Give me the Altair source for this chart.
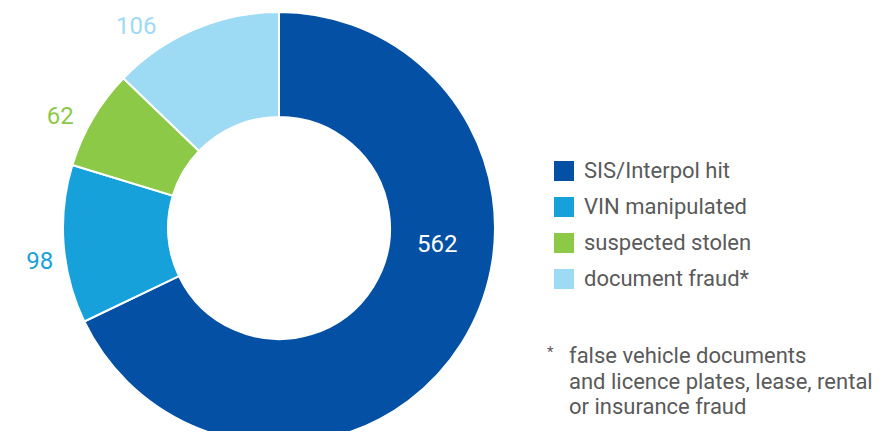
import altair as alt
import pandas as pd

categories = ["SIS/Interpol hit", "VIN manipulated", "suspected stolen", "document fraud*"]
values = [562, 98, 62, 106]
colors = ["#0450a4", "#16a1da", "#8cc947", "#9ddaf4"]
footnote_lines = ["false vehicle documents", "and licence plates, lease, rental", "or insurance fraud"]

FONT = "Roboto"
CX, CY = 271, 220
total = sum(values)

df = pd.DataFrame({"category": categories, "value": values, "order": list(range(len(values)))})
base = alt.Chart(df)
theta_scale = alt.Scale(domain=[0, total])

arc = base.mark_arc(outerRadius=216, innerRadius=111, stroke="white", strokeWidth=2).encode(
    x=alt.value(CX), y=alt.value(CY),
    theta=alt.Theta("value:Q", stack=True, scale=theta_scale),
    order=alt.Order("order:Q"),
    color=alt.Color("category:N", scale=alt.Scale(domain=categories, range=colors),
                    legend=alt.Legend(title=None, orient="none", legendX=545, legendY=152,
                                      symbolType="square", symbolSize=400, symbolStrokeWidth=0,
                                      labelFontSize=22, labelFont=FONT, labelColor="#5a5a5a",
                                      labelLimit=400, labelOffset=9, rowPadding=14, padding=0)),
)

# label style per category: (radius, dx, dy, text colour)
label_style = {
    "SIS/Interpol hit": (161, 22, -69, "white"),
    "VIN manipulated": (242, 2, 16, colors[1]),
    "suspected stolen": (242, -10, 12, colors[2]),
    "document fraud*": (242, -48, 22, colors[3]),
}

layers = [arc]
for cat in categories:
    r, dx, dy, col = label_style[cat]
    t = base.transform_window(
        cum="sum(value)", sort=[alt.SortField("order")]
    ).transform_calculate(
        mid="datum.cum - datum.value / 2"
    ).transform_filter(
        alt.datum.category == cat
    ).mark_text(radius=r, dx=dx, dy=dy, fontSize=24, font=FONT, color=col,
                align="center", baseline="middle").encode(
        x=alt.value(CX), y=alt.value(CY),
        theta=alt.Theta("mid:Q", stack=None, scale=theta_scale),
        text=alt.Text("value:Q"),
    )
    layers.append(t)

fn_df = pd.DataFrame({"text": ["\n".join(footnote_lines)]})
star = alt.Chart(fn_df).mark_text(text="*", fontSize=15, font=FONT, color="#5a5a5a",
                                  align="left", baseline="top").encode(
    x=alt.value(539), y=alt.value(337))
foot = alt.Chart(fn_df).mark_text(fontSize=22, font=FONT, color="#5a5a5a", align="left",
                                  baseline="alphabetic", lineBreak="\n", lineHeight=25.5).encode(
    x=alt.value(561), y=alt.value(355), text="text:N")
layers += [star, foot]

chart = alt.layer(*layers).properties(
    width=873, height=423, autosize=alt.AutoSizeParams(type="none"), padding=0
).configure_view(stroke=None)

chart.save("out.html", embed_options={"renderer": "svg", "actions": False})
